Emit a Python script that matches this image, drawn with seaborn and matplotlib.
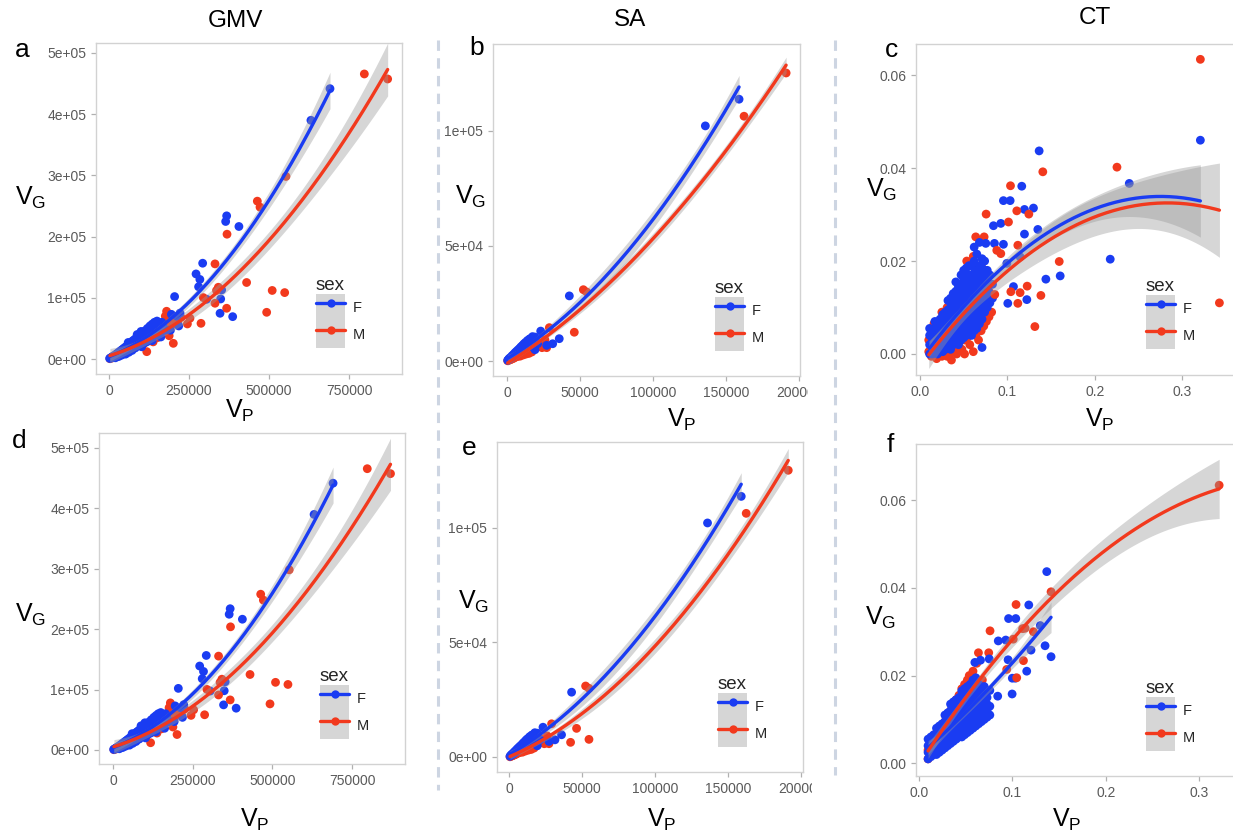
import numpy as np
import pandas as pd
import matplotlib
matplotlib.use("Agg")
import matplotlib.pyplot as plt
import seaborn as sns
from matplotlib.lines import Line2D
from matplotlib.patches import Patch
from matplotlib.legend_handler import HandlerTuple
from matplotlib.transforms import Bbox, TransformedBbox

# ---------------- DATA ----------------
# GMV (panels a, d), values in thousands
GMV_UNIT = 1000.0
GMV_F_CLUSTER = [(2,1),(5,1.5),(8,3),(10,2),(12,4),(15,5),(18,3),(20,7),(22,4),(25,9),(28,5),(30,11),(32,7),
    (35,13),(38,6),(40,15),(42,9),(45,17),(48,10),(50,19),(52,8),(55,21),(58,13),(60,27),(62,11),(65,22),
    (68,17),(70,28),(72,14),(75,24),(78,20),(80,32),(82,18),(85,27),(88,40),(90,22),(92,33),(95,25),(98,38),
    (100,29),(102,20),(105,42),(108,33),(110,26),(112,46),(115,36),(118,28),(120,50),(122,40),(125,32),
    (128,54),(130,44),(132,36),(135,57),(138,47),(140,38),(142,60),(145,50),(148,42),(150,62),(152,54),
    (155,45),(158,58),(160,48),(162,36),(165,60),(170,52),(175,47),(30,4),(45,8),(60,18),(75,30),(90,35),
    (105,24),(118,44),(135,30),(150,40),(20,2),(40,11),(55,16),(70,20),(85,34),(100,45),(125,46),(140,52)]
GMV_F_OUT = [(192,47),(195,73),(205,102),(218,54),(222,75),(212,70),(272,139),(284,130),(280,118),
    (292.7,156.5),(305,97.6),(347,74.7),(349,98.1),(352,112.9),(364.6,224.7),(367.7,233.9),(386.5,69.2),
    (406,216.5),(631,390),(690.6,441.7)]
GMV_M_CLUSTER = [(3,0.5),(8,2),(12,2),(18,4),(22,6),(28,6),(32,9),(38,8),(42,12),(48,11),(52,15),(58,13),
    (62,18),(68,15),(72,21),(78,18),(85,24),(92,22),(98,28),(105,24),(112,32),(118,12),(125,30),(132,38),
    (138,28),(145,40),(152,35),(158,45),(162,42),(168,50),(172,60),(176,70),(180,78),(184,62),(188,38),
    (195,55),(205,62),(215,58),(225,68),(5,1.5),(10,2.5),(15,4.5),(20,5),(25,7.5),(30,7.5),(35,10.5),
    (40,10),(45,13.5),(50,13),(55,16.5),(60,16),(65,19.5),(70,19),(75,22.5),(80,22),(85,25.5),(90,25),
    (95,28.5),(100,28),(110,33),(120,35),(130,40),(140,42),(150,47),(160,49)]
GMV_M_OUT = [(201,25.6),(245,57.3),(253,66.5),(287.5,58.3),(294.8,100.3),(331.3,91.1),(331.3,155.4),
    (336,112),(341.7,117.2),(367.7,82.9),(368.8,203.9),(430,125),(463.5,257.9),(471.9,248.1),(492.7,76.3),
    (510,112),(549,108.5),(553,298.3),(797.9,465.7),(870.8,457.5)]

# SA (panels b, e), values in thousands
SA_UNIT = 1000.0
SA_F_CLUSTER = [(0.5,0.3),(1,0.6),(1.5,1.1),(2,1.0),(2.5,1.6),(3,1.5),(3.5,2.3),(4,2.0),(4.5,2.9),(5,2.6),
    (5.5,3.6),(6,3.2),(6.5,4.2),(7,3.8),(7.5,4.8),(8,4.2),(8.5,5.4),(9,4.7),(9.5,6.1),(10,5.3),(10.5,6.7),
    (11,5.8),(11.5,7.4),(12,6.3),(12.5,8.0),(13,6.9),(14,8.9),(15,7.7),(16,9.6),(17,8.4),(18,6.0),
    (19.2,10.4),(19.2,4.9),(21,7.5),(23.1,13.0),(27.2,6.8),(31.3,7.5),(35.8,9.7),(15.5,9.6),(17.5,10.6)]
SA_F_OUT = [(42.7,28.3),(135.8,102.2),(158.9,113.8)]
SA_M_CLUSTER = [(1,0.3),(2,0.5),(3,0.8),(4,1.0),(5,1.4),(6,1.7),(7,2.0),(8,2.2),(9,2.1),(10,2.8),(11,2.6),
    (12,3.4),(13,3.0),(14,4.0),(15,3.3),(16,7.0),(17,3.9),(18,6.0),(20,6.8),(22,8.0),(24,5.8),(27.2,5.8),
    (29.0,14.5),(0.5,0.1),(1.5,0.6),(2.5,0.7),(3.5,1.3),(4.5,1.4),(5.5,2.0),(6.5,2.1),(7.5,2.8),(8.5,2.6),
    (9.5,3.5),(10.5,3.2),(11.5,4.1),(12.5,3.8),(13.5,4.8),(14.5,4.3),(15.5,5.4),(16.5,4.9),(17.5,6.1),
    (18.5,5.5),(19.5,6.7),(21,6.2),(23,7.4),(25,7.9),(26,9.2),(2,0.9),(4,1.6),(6,2.4),(8,3.1),(10,3.7),
    (12,4.5),(14,5.1),(16,5.8),(18,6.6),(20,7.3)]
SA_M_OUT_B = [(46.1,12.5),(52.3,31.0),(54.6,30.0),(162.3,106.4),(191.1,125.2)]
SA_M_OUT_E = [(42.0,6.4),(46.1,12.5),(52.3,31.0),(54.6,30.0),(54.6,7.7),(162.3,106.4),(191.1,125.2)]

# CT panel c: dense cluster given as (x, [y values at that x])
CT_F_CLUSTER_C = [
    (0.011, [0.000, 0.002, 0.004, 0.0055]), (0.014, [0.000, 0.0015, 0.003, 0.005]),
    (0.017, [0.0005, 0.002, 0.0035, 0.0055, 0.007]), (0.020, [0.000, 0.0015, 0.003, 0.0045, 0.0065]),
    (0.023, [0.001, 0.0025, 0.004, 0.0055, 0.0075]), (0.026, [0.0005, 0.002, 0.0035, 0.005, 0.0065, 0.0085]),
    (0.029, [0.001, 0.0025, 0.004, 0.0055, 0.007, 0.009]),
    (0.032, [0.0015, 0.003, 0.0045, 0.006, 0.0075, 0.0095, 0.0115]),
    (0.035, [0.001, 0.0025, 0.004, 0.0055, 0.007, 0.0085, 0.010, 0.012]),
    (0.038, [0.002, 0.0035, 0.005, 0.0065, 0.008, 0.0095, 0.011, 0.013]),
    (0.041, [0.0025, 0.004, 0.0055, 0.007, 0.0085, 0.010, 0.0115, 0.0135, 0.0155]),
    (0.044, [0.002, 0.0035, 0.005, 0.0065, 0.008, 0.0095, 0.011, 0.0125, 0.0145]),
    (0.047, [0.003, 0.0045, 0.006, 0.0075, 0.009, 0.0105, 0.012, 0.0135, 0.015, 0.017]),
    (0.050, [0.0035, 0.005, 0.0065, 0.008, 0.0095, 0.011, 0.0125, 0.014, 0.016, 0.018]),
    (0.053, [0.004, 0.0055, 0.007, 0.0085, 0.010, 0.0115, 0.013, 0.0145, 0.016, 0.0185]),
    (0.056, [0.0045, 0.006, 0.0075, 0.009, 0.0105, 0.012, 0.0135, 0.015, 0.017, 0.019]),
    (0.059, [0.004, 0.0055, 0.007, 0.0085, 0.010, 0.0115, 0.013, 0.0145, 0.0165, 0.019]),
    (0.062, [0.005, 0.0065, 0.008, 0.0095, 0.011, 0.0125, 0.014, 0.0155, 0.0175, 0.020, 0.023]),
    (0.065, [0.0055, 0.007, 0.0085, 0.010, 0.0115, 0.013, 0.0145, 0.016, 0.018, 0.0215]),
    (0.068, [0.0065, 0.008, 0.0095, 0.011, 0.0125, 0.014, 0.0155, 0.017, 0.019, 0.024]),
    (0.071, [0.0014, 0.0075, 0.009, 0.0105, 0.012, 0.0135, 0.015, 0.0165, 0.0185, 0.0205]),
    (0.074, [0.009, 0.0105, 0.012, 0.0135, 0.015, 0.0165, 0.018, 0.020]),
    (0.077, [0.010, 0.012, 0.014, 0.016, 0.018]), (0.080, [0.011, 0.013, 0.015, 0.017]),
    (0.083, [0.012, 0.015])]
# outliers; the last point of each CT-c outlier list sits under the opaque legend box
CT_F_OUT_C = [(0.0753,0.0238),(0.0852,0.0238),(0.0841,0.0276),(0.0925,0.0281),(0.0955,0.0236),
    (0.0955,0.0330),(0.1032,0.0330),(0.1165,0.0361),(0.1196,0.0311),(0.1299,0.0314),(0.1349,0.0268),
    (0.1196,0.0258),(0.1364,0.0437),(0.0994,0.0195),(0.1146,0.0209),(0.1070,0.0145),(0.1005,0.0109),
    (0.1223,0.0117),(0.1441,0.0161),(0.1605,0.0168),(0.2178,0.0204),(0.2396,0.0367),(0.3210,0.0460),
    (0.27,0.0165)]
CT_M_CLUSTER_C = [
    (0.010, [0.0005, 0.003]), (0.013, [-0.0005, 0.002, 0.0045]), (0.016, [0.000, 0.003, 0.0065]),
    (0.019, [-0.001, 0.0015, 0.005]), (0.022, [0.000, 0.003, 0.0065]), (0.025, [-0.0005, 0.002, 0.006, 0.009]),
    (0.028, [0.0005, 0.004, 0.0075]), (0.031, [-0.0005, 0.002, 0.006, 0.010]), (0.034, [0.000, 0.004, 0.008]),
    (0.036, [-0.0013, 0.003, 0.011]), (0.039, [0.001, 0.005, 0.009, 0.012]),
    (0.042, [0.000, 0.004, 0.0075, 0.013]), (0.045, [0.0015, 0.006, 0.010, 0.014]),
    (0.048, [0.001, 0.005, 0.009, 0.0125]), (0.051, [0.000, 0.003, 0.008, 0.015]), (0.0535, [0.020]),
    (0.054, [0.0035, 0.007, 0.012]), (0.057, [0.002, 0.006, 0.010, 0.016]),
    (0.061, [0.0005, 0.005, 0.009, 0.014, 0.021]), (0.0638, [0.0252]), (0.064, [0.004, 0.008, 0.013, 0.018]),
    (0.067, [0.003, 0.007, 0.011, 0.016]), (0.070, [0.005, 0.009, 0.0135, 0.019]), (0.0734, [0.0252]),
    (0.073, [0.006, 0.0105, 0.015]), (0.0757, [0.0301]), (0.076, [0.007, 0.012]), (0.079, [0.008, 0.0135]),
    (0.082, [0.009])]
CT_M_OUT_C = [(0.0856,0.0128),(0.0879,0.0223),(0.0925,0.0216),(0.1013,0.0284),(0.1036,0.0362),
    (0.1040,0.0134),(0.1108,0.0308),(0.1120,0.0234),(0.1120,0.0109),(0.1146,0.0132),(0.1227,0.0146),
    (0.1246,0.0301),(0.1315,0.0059),(0.1384,0.0126),(0.1406,0.0392),(0.1594,0.0199),(0.2255,0.0402),
    (0.3210,0.0634),(0.3428,0.0110),(0.28,0.0165)]

# CT panel f
CT_F_CLUSTER_F = [
    (0.010, [0.001, 0.0025, 0.004, 0.0055]), (0.013, [0.0015, 0.003, 0.0045, 0.006]),
    (0.016, [0.002, 0.0035, 0.005, 0.0065]), (0.019, [0.002, 0.0035, 0.005, 0.0065, 0.008]),
    (0.022, [0.0025, 0.004, 0.0055, 0.007, 0.0085]), (0.025, [0.003, 0.0045, 0.006, 0.0075, 0.009]),
    (0.028, [0.0035, 0.005, 0.0065, 0.008, 0.0095, 0.011]), (0.031, [0.004, 0.0055, 0.007, 0.0085, 0.010, 0.0115]),
    (0.034, [0.0045, 0.006, 0.0075, 0.009, 0.0105, 0.012, 0.0135]),
    (0.037, [0.005, 0.0065, 0.008, 0.0095, 0.011, 0.0125, 0.014]),
    (0.040, [0.0055, 0.007, 0.0085, 0.010, 0.0115, 0.013, 0.0145]),
    (0.043, [0.006, 0.0075, 0.009, 0.0105, 0.012, 0.0135, 0.015]),
    (0.046, [0.006, 0.0075, 0.009, 0.0105, 0.012, 0.0135, 0.015, 0.0165]),
    (0.049, [0.0065, 0.008, 0.0095, 0.011, 0.0125, 0.014, 0.0155, 0.017]),
    (0.052, [0.007, 0.0085, 0.010, 0.0115, 0.013, 0.0145, 0.016, 0.0175]),
    (0.055, [0.0075, 0.009, 0.0105, 0.012, 0.0135, 0.015, 0.0165, 0.018]),
    (0.058, [0.008, 0.0095, 0.011, 0.0125, 0.014, 0.0155, 0.017, 0.019]), (0.060, [0.023]),
    (0.061, [0.0085, 0.010, 0.0115, 0.013, 0.0145, 0.016, 0.0175, 0.0195]),
    (0.064, [0.009, 0.0105, 0.012, 0.0135, 0.015, 0.0165, 0.018]), (0.066, [0.0235]),
    (0.067, [0.0095, 0.011, 0.0125, 0.014, 0.0155, 0.017]), (0.070, [0.010, 0.0115, 0.013, 0.0145, 0.016, 0.0175]),
    (0.073, [0.0105, 0.012, 0.0135, 0.015, 0.0165]), (0.076, [0.011, 0.013, 0.0166])]
CT_F_OUT_F = [(0.0753,0.0238),(0.0844,0.0153),(0.085,0.0279),(0.093,0.0281),(0.0955,0.0236),(0.096,0.033),
    (0.1037,0.033),(0.0998,0.0158),(0.100,0.0194),(0.1032,0.0194),(0.1154,0.021),(0.1176,0.0361),
    (0.120,0.0258),(0.1299,0.0314),(0.135,0.0268),(0.1368,0.0437),(0.1414,0.0243)]
CT_M_CLUSTER_F = [
    (0.010, [0.001, 0.003]), (0.013, [0.002, 0.0045]), (0.016, [0.0025, 0.005]), (0.019, [0.003, 0.006]),
    (0.022, [0.004, 0.007]), (0.025, [0.005, 0.008]), (0.028, [0.006, 0.0095]), (0.031, [0.007, 0.0105]),
    (0.0335, [0.0108]), (0.034, [0.008, 0.012]), (0.037, [0.009, 0.013]), (0.040, [0.010, 0.0145]),
    (0.043, [0.011, 0.0155]), (0.046, [0.012, 0.017]), (0.049, [0.013, 0.018]), (0.052, [0.014, 0.019]),
    (0.054, [0.020]), (0.055, [0.015]), (0.058, [0.016, 0.021]), (0.062, [0.0228]), (0.0638, [0.0252]),
    (0.064, [0.017]), (0.068, [0.019]), (0.0748, [0.0252]), (0.0762, [0.0302])]
CT_M_OUT_F = [(0.094,0.0214),(0.101,0.0283),(0.104,0.0362),(0.1047,0.0195),(0.111,0.0307),(0.1137,0.0308),
    (0.1119,0.0234),(0.1225,0.030),(0.1414,0.0391),(0.321,0.0634)]

# tick values / labels
GMV_XTICKS = [0, 250000, 500000, 750000]
GMV_XLABELS = ["0", "250000", "500000", "750000"]
GMV_YTICKS = [0, 1e5, 2e5, 3e5, 4e5, 5e5]
GMV_YLABELS = ["0e+00", "1e+05", "2e+05", "3e+05", "4e+05", "5e+05"]
SA_XTICKS = [0, 50000, 100000, 150000, 200000]
SA_XLABELS = ["0", "50000", "100000", "150000", "200000"]
SA_YTICKS = [0, 5e4, 1e5]
SA_YLABELS = ["0e+00", "5e+04", "1e+05"]
CT_XTICKS = [0.0, 0.1, 0.2, 0.3]
CT_XLABELS = ["0.0", "0.1", "0.2", "0.3"]
CT_YTICKS = [0.0, 0.02, 0.04, 0.06]
CT_YLABELS = ["0.00", "0.02", "0.04", "0.06"]

COLUMN_TITLES = ["GMV", "SA", "CT"]
PANEL_LETTERS = ["a", "b", "c", "d", "e", "f"]
SEX_LEVELS = ["F", "M"]

# ---------------- STYLE ----------------
BLUE = "#1a3cf2"
RED = "#f2391d"
BAND = "#999999"
W, H = 1233, 835
LEG_FS = 10.5
LEG_PAD = 0.45

sns.set_theme(style="white")
plt.rcParams["font.family"] = ["Liberation Sans", "DejaVu Sans"]
plt.rcParams["mathtext.fontset"] = "custom"
plt.rcParams["mathtext.rm"] = "Liberation Sans"


def expand(pts):
    out = []
    for item in pts:
        if isinstance(item[1], (list, tuple)):
            out.extend((item[0], v) for v in item[1])
        else:
            out.append(item)
    return out


def make_df(f_cluster, f_out, m_cluster, m_out, unit=1.0):
    rows = []
    for sex, pts in (("M", m_cluster), ("F", f_cluster), ("F", f_out), ("M", m_out)):
        for x, y in expand(pts):
            rows.append((x * unit, y * unit, sex))
    return pd.DataFrame(rows, columns=["x", "y", "sex"])


def quad_band(x, y, n=160):
    m, s = x.mean(), x.std()
    z = (x - m) / s
    X = np.column_stack([np.ones_like(z), z, z ** 2])
    beta = np.linalg.lstsq(X, y, rcond=None)[0]
    res = y - X @ beta
    dof = len(x) - 3
    s2 = res @ res / dof
    cov = np.linalg.inv(X.T @ X) * s2
    xs = np.linspace(x.min(), x.max(), n)
    zs = (xs - m) / s
    G = np.column_stack([np.ones_like(zs), zs, zs ** 2])
    fit = G @ beta
    se = np.sqrt(np.einsum("ij,jk,ik->i", G, cov, G))
    t = 1.96 + 2.4 / dof
    return xs, fit, fit - t * se, fit + t * se


fig = plt.figure(figsize=(W / 100, H / 100), dpi=100)
fig.patch.set_facecolor("white")


def px2fig(x, y):
    return x / W, 1 - y / H


panels = [
    dict(df=make_df(GMV_F_CLUSTER, GMV_F_OUT, GMV_M_CLUSTER, GMV_M_OUT, GMV_UNIT), box=(96, 43, 402, 374),
         xlim=(-40600, 915600), ylim=(-24500, 516300),
         xt=(GMV_XTICKS, GMV_XLABELS), yt=(GMV_YTICKS, GMV_YLABELS), leg=(316, 348),
         vg=(31, 198), vp=(240, 411), letter=(22, 50), clip=None),
    dict(df=make_df(SA_F_CLUSTER, SA_F_OUT, SA_M_CLUSTER, SA_M_OUT_B, SA_UNIT), box=(493, 44, 800, 376),
         xlim=(-9550, 200600), ylim=(-6520, 137800),
         xt=(SA_XTICKS, SA_XLABELS), yt=(SA_YTICKS, SA_YLABELS), leg=(715, 351),
         vg=(471, 197), vp=(682, 420), letter=(477, 48), clip=808),
    dict(df=make_df(CT_F_CLUSTER_C, CT_F_OUT_C, CT_M_CLUSTER_C, CT_M_OUT_C), box=(916, 44, 1236, 375),
         xlim=(-0.0046, 0.3618), ylim=(-0.00452, 0.0667),
         xt=(CT_XTICKS, CT_XLABELS), yt=(CT_YTICKS, CT_YLABELS), leg=(1146, 349),
         vg=(882, 190), vp=(1100, 420), letter=(891, 50), clip=None),
    dict(df=make_df(GMV_F_CLUSTER, GMV_F_OUT, GMV_M_CLUSTER, GMV_M_OUT, GMV_UNIT), box=(99, 433, 405, 764),
         xlim=(-43900, 916300), ylim=(-23200, 524800),
         xt=(GMV_XTICKS, GMV_XLABELS), yt=(GMV_YTICKS, GMV_YLABELS), leg=(320, 739),
         vg=(31, 615), vp=(255, 820), letter=(19, 441), clip=None),
    dict(df=make_df(SA_F_CLUSTER, SA_F_OUT, SA_M_CLUSTER, SA_M_OUT_E, SA_UNIT), box=(497, 442, 803, 772),
         xlim=(-8400, 201200), ylim=(-6550, 137550),
         xt=(SA_XTICKS, SA_XLABELS), yt=(SA_YTICKS, SA_YLABELS), leg=(718, 747),
         vg=(474, 602), vp=(662, 820), letter=(469, 448), clip=812),
    dict(df=make_df(CT_F_CLUSTER_F, CT_F_OUT_F, CT_M_CLUSTER_F, CT_M_OUT_F), box=(916, 444, 1236, 776),
         xlim=(-0.0029, 0.339), ylim=(-0.0029, 0.0728),
         xt=(CT_XTICKS, CT_XLABELS), yt=(CT_YTICKS, CT_YLABELS), leg=(1146, 751),
         vg=(881, 618), vp=(1067, 820), letter=(890, 445), clip=None),
]

palette = {"F": BLUE, "M": RED}
pad_px = LEG_PAD * LEG_FS * 100 / 72

for i, p in enumerate(panels):
    l, t, r, b = p["box"]
    ax = fig.add_axes([l / W, 1 - b / H, (r - l) / W, (b - t) / H])
    ax.set_facecolor("white")
    df = p["df"]
    sns.scatterplot(data=df, x="x", y="y", hue="sex", palette=palette, s=40, linewidth=0,
                    legend=False, ax=ax, zorder=2)
    for sex in SEX_LEVELS:
        sub = df[df["sex"] == sex]
        xs, fit, lo, hi = quad_band(sub["x"].to_numpy(float), sub["y"].to_numpy(float))
        ax.fill_between(xs, lo, hi, color=BAND, alpha=0.4, linewidth=0, zorder=3)
        sns.lineplot(x=xs, y=fit, color=palette[sex], linewidth=2.4, ax=ax, estimator=None,
                     sort=False, zorder=4)
    ax.set_xlim(*p["xlim"])
    ax.set_ylim(*p["ylim"])
    ax.set_xticks(p["xt"][0])
    ax.set_xticklabels(p["xt"][1])
    ax.set_yticks(p["yt"][0])
    ax.set_yticklabels(p["yt"][1])
    ax.tick_params(axis="both", which="major", bottom=True, left=True, direction="out", length=3.5,
                   width=0.9, color="#b0b0b0", labelcolor="#5a5a5a", labelsize=10, pad=3.5)
    for sp in ax.spines.values():
        sp.set_visible(True)
        sp.set_color("#d2d2d2")
        sp.set_linewidth(1.0)
    ax.grid(False)

    ax.set_xlabel(r"$\mathregular{V}_{\mathregular{P}}$", fontsize=18, color="black")
    ax.xaxis.label.set_va("center")
    ax.xaxis.set_label_coords(*px2fig(*p["vp"]), transform=fig.transFigure)
    ax.set_ylabel(r"$\mathregular{V}_{\mathregular{G}}$", fontsize=18, color="black", rotation=0)
    ax.yaxis.label.set_va("center")
    ax.yaxis.label.set_ha("center")
    ax.yaxis.set_label_coords(*px2fig(*p["vg"]), transform=fig.transFigure)

    handles = [(Patch(facecolor=BAND, alpha=0.4, edgecolor="none"),
                Line2D([], [], color=palette[s], lw=2.4, marker="o", ms=6, mew=0)) for s in SEX_LEVELS]
    lx, ly = p["leg"]
    leg = ax.legend(handles, SEX_LEVELS, title="sex", handler_map={tuple: HandlerTuple(ndivide=1, pad=0)},
                    loc="lower left", bbox_to_anchor=px2fig(lx - pad_px, ly + pad_px),
                    bbox_transform=fig.transFigure, frameon=True, facecolor="white", edgecolor="none",
                    framealpha=1.0, fancybox=False, fontsize=LEG_FS, title_fontsize=13.5,
                    handlelength=2.0, handleheight=2.45, labelspacing=0, handletextpad=0.55,
                    borderpad=LEG_PAD, borderaxespad=0, alignment="left", numpoints=1)
    leg.set_zorder(6)

    if p["clip"] is not None:
        lab = ax.get_xticklabels()[-1]
        lab.set_clip_on(True)
        lab.set_clip_box(TransformedBbox(Bbox.from_extents(0, 0, p["clip"] / W, 1), fig.transFigure))

    fig.text(*px2fig(*p["letter"]), PANEL_LETTERS[i], fontsize=19, ha="center", va="center", color="black")

for title, (x, y) in zip(COLUMN_TITLES, [(235, 21), (630, 20), (1095, 18)]):
    fig.text(*px2fig(x, y), title, fontsize=17.5, ha="center", va="center", color="black")

for (x, y0, y1) in [(438, 40, 790), (835, 40, 775)]:
    fig.add_artist(Line2D([x / W, x / W], [1 - y0 / H, 1 - y1 / H], transform=fig.transFigure,
                          color="#cdd5e2", lw=2.2, linestyle=(0, (3.4, 2.4))))

fig.savefig("out.png", dpi=100, facecolor="white")
